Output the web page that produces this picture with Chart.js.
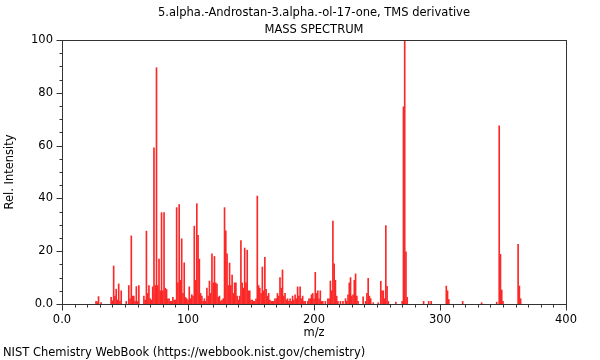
<!DOCTYPE html>
<html><head><meta charset="utf-8">
<script src="https://cdn.jsdelivr.net/npm/chart.js@4.4.1/dist/chart.umd.min.js"></script>
<style>html,body{margin:0;padding:0;background:#fff}canvas{display:block}</style>
</head><body>
<canvas id="c" width="600" height="360"></canvas>
<script>
const titleText = "5.alpha.-Androstan-3.alpha.-ol-17-one, TMS derivative";
const subtitleText = "MASS SPECTRUM";
const xTitle = "m/z";
const yTitle = "Rel. Intensity";
const footerText = "NIST Chemistry WebBook (https://webbook.nist.gov/chemistry)";

const mz = [27,28,29,31,39,40,41,42,43,44,45,46,47,51,53,54,55,56,57,58,59,60,61,65,66,67,68,69,70,71,72,73,74,75,76,77,78,79,80,81,82,83,84,85,86,87,88,89,90,91,92,93,94,95,96,97,98,99,100,101,102,103,104,105,106,107,108,109,110,111,112,113,114,115,116,117,118,119,120,121,122,123,124,125,126,127,128,129,130,131,132,133,134,135,136,137,138,139,140,141,142,143,144,145,146,147,148,149,150,151,152,153,154,155,156,157,158,159,160,161,162,163,164,165,166,167,168,169,170,171,172,173,174,175,176,177,178,179,180,181,182,183,184,185,186,187,188,189,190,191,192,193,195,196,197,198,199,200,201,202,203,204,205,206,207,209,211,212,213,214,215,216,217,218,219,221,223,225,226,227,228,229,230,231,232,233,234,235,239,241,242,243,244,245,247,251,253,254,255,256,257,258,259,265,270,271,272,273,274,287,291,293,305,306,307,318,333,345,347,348,349,350,362,363,364];
const relIntensity = [1.0,0.8,2.8,0.5,2.5,1.2,14.4,3.0,5.6,1.5,7.6,1.0,5.0,1.0,7.0,2.0,25.8,3.0,3.0,1.0,6.6,1.0,7.0,3.0,1.5,27.6,4.0,7.0,2.0,1.5,6.5,59.2,7.0,89.5,7.0,17.0,5.0,34.6,5.0,34.6,6.0,5.5,2.0,2.0,1.0,1.0,2.5,1.5,1.5,36.5,8.0,37.7,9.0,24.7,4.0,15.6,2.5,2.0,1.5,6.5,2.0,3.5,3.0,29.5,9.0,38.0,26.0,17.0,4.0,3.0,1.0,2.0,1.0,6.0,3.0,8.7,4.0,19.0,8.0,18.0,8.0,7.5,2.5,3.0,1.0,1.5,2.0,36.5,27.7,19.0,7.0,15.5,7.0,11.0,4.0,8.0,8.0,3.0,1.5,3.0,24.0,8.0,6.0,21.2,8.0,20.4,5.0,5.0,1.5,1.5,1.0,1.0,2.0,40.9,7.0,6.0,4.0,14.0,5.0,17.7,5.6,3.0,4.0,1.5,1.0,1.0,1.0,2.0,2.0,4.0,3.0,10.0,6.0,12.9,3.0,4.0,1.5,2.0,1.0,2.0,1.0,3.0,1.5,3.5,2.0,6.5,3.0,6.5,2.0,3.0,1.0,1.0,1.0,2.0,2.0,3.5,4.0,2.0,12.0,4.0,5.0,2.0,5.0,1.0,1.0,1.0,2.0,2.0,8.7,5.0,31.4,15.2,9.0,3.0,1.0,1.0,1.0,2.0,1.0,3.5,8.0,10.0,3.0,3.5,9.0,11.4,3.0,1.0,2.7,1.0,4.0,9.7,3.0,2.0,0.5,0.5,8.6,5.0,5.0,2.0,29.7,6.7,1.0,0.7,1.0,74.7,100,19.8,2.5,1.0,1.0,1.0,6.8,5.0,1.7,1.0,0.5,0.7,67.5,18.8,5.3,1.0,22.6,6.8,2.0];

const xMajorTicks = [0,100,200,300,400];
const yMajorTicks = [0,20,40,60,80,100];

const FONT = "DejaVu Sans";

const decorPlugin = {
  id: 'decor',
  afterDraw(chart) {
    const ctx = chart.ctx;
    const a = chart.chartArea;
    const xs = chart.scales.x, ys = chart.scales.y;
    ctx.save();
    ctx.strokeStyle = '#333';
    ctx.lineWidth = 1;
    const L = Math.round(a.left) + 0.5, R = Math.round(a.right) + 0.5;
    const T = Math.round(a.top) + 0.5, B = Math.round(a.bottom) + 0.5;
    ctx.strokeRect(L, T, R - L, B - T);
    ctx.beginPath();
    for (let v = 0; v <= 400; v += 10) {
      const px = Math.round(xs.getPixelForValue(v)) + 0.5;
      const len = (v % 100 === 0) ? 6 : 3;
      ctx.moveTo(px, B); ctx.lineTo(px, B + len);
    }
    for (let v = 0; v <= 100; v += 5) {
      const py = Math.round(ys.getPixelForValue(v)) + 0.5;
      const len = (v % 20 === 0) ? 6 : 3;
      ctx.moveTo(L, py); ctx.lineTo(L - len, py);
    }
    ctx.stroke();
    ctx.fillStyle = '#000';
    ctx.font = '11.5px "' + FONT + '"';
    ctx.textAlign = 'center';
    ctx.textBaseline = 'middle';
    const cx = (a.left + a.right) / 2;
    ctx.fillText(titleText, cx, 13);
    ctx.fillText(subtitleText, cx, 30);
    ctx.fillText(xTitle, cx, 333);
    ctx.save();
    ctx.translate(10, (a.top + a.bottom) / 2);
    ctx.rotate(-Math.PI / 2);
    ctx.fillText(yTitle, 0, 0);
    ctx.restore();
    ctx.textAlign = 'left';
    ctx.fillText(footerText, 3, 353);
    ctx.restore();
  }
};

new Chart(document.getElementById('c'), {
  type: 'bar',
  data: {
    datasets: [{
      data: mz.map((m, i) => ({x: m, y: relIntensity[i]})),
      backgroundColor: 'rgb(250,40,40)',
      borderWidth: 0,
      barThickness: 1,
      grouped: false
    }]
  },
  options: {
    responsive: false,
    animation: false,
    devicePixelRatio: 1,
    layout: {padding: {left: 0, right: 34, top: 40, bottom: 0}},
    plugins: {legend: {display: false}, tooltip: {enabled: false}, title: {display: false}},
    scales: {
      x: {
        type: 'linear', min: 0, max: 400, offset: false,
        grid: {display: false, drawTicks: false},
        border: {display: false},
        afterBuildTicks: s => { s.ticks = xMajorTicks.map(v => ({value: v})); },
        ticks: {
          padding: 9, color: '#000', maxRotation: 0,
          font: {family: FONT, size: 11.5},
          callback: v => v === 0 ? '0.0' : String(v)
        },
        afterFit: s => { s.height = 56; }
      },
      y: {
        min: 0, max: 100,
        grid: {display: false, drawTicks: false},
        border: {display: false},
        afterBuildTicks: s => { s.ticks = yMajorTicks.map(v => ({value: v})); },
        ticks: {
          padding: 9, color: '#000',
          font: {family: FONT, size: 11.5},
          callback: v => v === 0 ? '0.0' : String(v)
        },
        afterFit: s => { s.width = 62; }
      }
    }
  },
  plugins: [decorPlugin]
});
</script>
</body></html>
